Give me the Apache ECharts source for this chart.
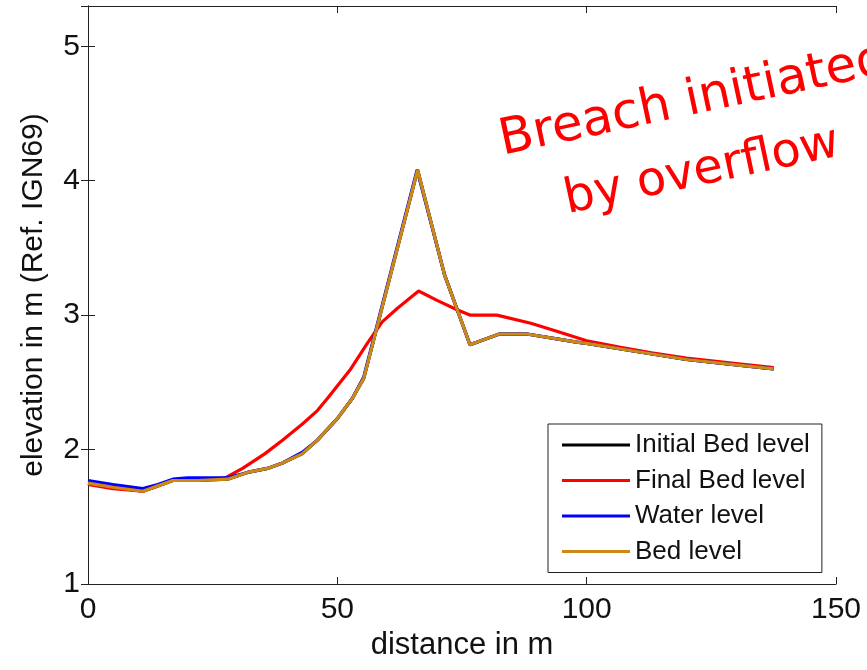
<!DOCTYPE html>
<html>
<head>
<meta charset="utf-8">
<title>Breach initiated by overflow</title>
<script src="https://cdn.jsdelivr.net/npm/echarts/dist/echarts.min.js"></script>
<style>
  html, body { margin: 0; padding: 0; background: #fff; }
  #chart { width: 867px; height: 670px; }
</style>
</head>
<body>
<div id="chart"></div>
<script>
// Cross-section profiles along the dike: [distance (m), elevation (m, Ref. IGN69)]
const initialBed = [
  [0, 1.75], [5, 1.72], [11, 1.69], [14, 1.73], [17, 1.77], [22, 1.77], [28, 1.78],
  [32, 1.83], [36, 1.86], [39, 1.90], [43, 1.97], [46, 2.07], [50, 2.23], [53, 2.38],
  [55.3, 2.53], [66.1, 4.08], [71.5, 3.30], [76.6, 2.78], [82.5, 2.86], [88, 2.86],
  [98, 2.80], [100, 2.79], [110, 2.73], [120, 2.67], [130, 2.63], [137.5, 2.60]
];
const finalBed = [
  [0, 1.74], [5, 1.71], [11, 1.69], [14, 1.73], [17, 1.77], [22, 1.77], [27.5, 1.79],
  [31, 1.86], [35.5, 1.97], [39, 2.07], [43, 2.19], [46, 2.29], [48, 2.38], [52.5, 2.59],
  [56, 2.79], [59, 2.95], [62, 3.05], [66.3, 3.18], [70, 3.11], [74, 3.04], [76.7, 3.00],
  [82, 3.00], [88.8, 2.94], [94, 2.88], [100, 2.81], [106.8, 2.76], [113, 2.72],
  [120, 2.68], [130, 2.64], [137.5, 2.61]
];
const waterLevel = [
  [0, 1.77], [5, 1.74], [11, 1.71], [14, 1.74], [17, 1.78], [20, 1.79], [28, 1.79],
  [32, 1.83], [36, 1.86], [39, 1.90], [43, 1.98], [46, 2.07], [50, 2.23], [53, 2.38],
  [55.3, 2.54], [66.0, 4.08], [71.5, 3.30], [76.6, 2.78], [82.5, 2.86], [88, 2.86],
  [98, 2.80], [100, 2.79], [110, 2.73], [120, 2.67], [130, 2.63], [137.5, 2.60]
];
const bedLevel = [
  [0, 1.75], [5, 1.72], [11, 1.69], [14, 1.73], [17, 1.77], [22, 1.77], [28, 1.78],
  [32, 1.83], [36, 1.86], [39, 1.90], [43, 1.97], [46, 2.07], [50, 2.23], [53, 2.38],
  [55.3, 2.53], [66.1, 4.08], [71.5, 3.30], [76.6, 2.78], [82.5, 2.86], [88, 2.86],
  [98, 2.80], [100, 2.79], [110, 2.73], [120, 2.67], [130, 2.63], [137.5, 2.60]
];

const seriesNames = ['Initial Bed level', 'Final Bed level', 'Water level', 'Bed level'];
const seriesColors = ['#000000', '#ff0000', '#0000ff', '#cc8a14'];
const seriesData = [initialBed, finalBed, waterLevel, bedLevel];

const xRange = [0, 150], xStep = 50;
const yRange = [1, 5.3], yStep = 1;

const axisColor = '#222';
const textFont = 'Liberation Sans, Arial, sans-serif';

const chart = echarts.init(document.getElementById('chart'), null, { renderer: 'canvas' });

const boxAxis = {
  axisLine: { show: true, lineStyle: { color: axisColor, width: 1 } },
  axisTick: { show: true, inside: true, length: 7, lineStyle: { color: axisColor } },
  splitLine: { show: false }
};

chart.setOption({
  animation: false,
  backgroundColor: '#fff',
  grid: { left: 88, right: 31, top: 6, bottom: 86, containLabel: false },
  xAxis: [
    Object.assign({
      type: 'value', position: 'bottom', min: xRange[0], max: xRange[1], interval: xStep,
      axisLabel: { show: true, fontSize: 30, color: '#111', fontFamily: textFont, margin: 11 },
      name: 'distance in m', nameLocation: 'middle', nameGap: 46,
      nameTextStyle: { fontSize: 31, color: '#111', fontFamily: textFont }
    }, boxAxis),
    Object.assign({
      type: 'value', position: 'top', min: xRange[0], max: xRange[1], interval: xStep,
      axisLabel: { show: false }
    }, boxAxis)
  ],
  yAxis: [
    Object.assign({
      type: 'value', position: 'left', min: yRange[0], max: yRange[1], interval: yStep,
      axisLabel: { show: true, showMaxLabel: false, fontSize: 30, color: '#111', fontFamily: textFont, margin: 8 },
      name: 'elevation in m (Ref. IGN69)', nameLocation: 'middle', nameGap: 39,
      nameTextStyle: { fontSize: 30, color: '#111', fontFamily: textFont }
    }, boxAxis),
    Object.assign({
      type: 'value', position: 'right', min: yRange[0], max: yRange[1], interval: yStep,
      axisLabel: { show: false }
    }, boxAxis)
  ],
  legend: {
    orient: 'vertical',
    left: 548, top: 424,
    data: seriesNames,
    icon: 'rect',
    itemWidth: 68, itemHeight: 3, itemGap: 5.5,
    padding: [6, 12, 6, 14],
    backgroundColor: '#fff',
    borderColor: axisColor, borderWidth: 1, borderRadius: 0,
    textStyle: { fontSize: 26, lineHeight: 30, color: '#111', fontFamily: textFont }
  },
  series: seriesNames.map((name, i) => ({
    name: name,
    type: 'line',
    xAxisIndex: 0, yAxisIndex: 0,
    data: seriesData[i],
    showSymbol: false,
    smooth: false,
    color: seriesColors[i],
    lineStyle: { color: seriesColors[i], width: 3.2 },
    z: 2 + i
  })),
  graphic: [
    {
      type: 'text', x: 500, y: 142, rotation: 12 * Math.PI / 180,
      style: { text: 'Breach initiated', fill: '#ff0000', font: '50px "DejaVu Sans", sans-serif',
               textAlign: 'left', textVerticalAlign: 'middle' }
    },
    {
      type: 'text', x: 565, y: 201, rotation: 12 * Math.PI / 180,
      style: { text: 'by overflow', fill: '#ff0000', font: '48px "DejaVu Sans", sans-serif',
               textAlign: 'left', textVerticalAlign: 'middle' }
    }
  ]
});
</script>
</body>
</html>
